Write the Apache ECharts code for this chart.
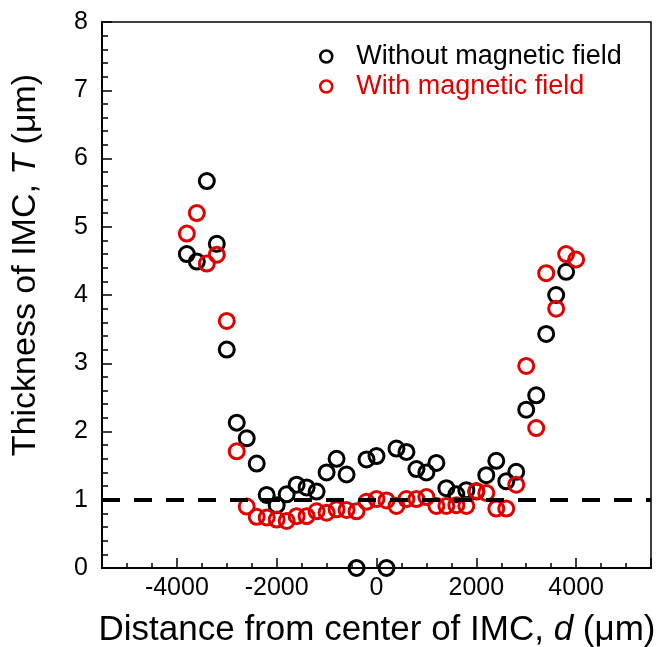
<!DOCTYPE html>
<html>
<head>
<meta charset="utf-8">
<script src="https://cdn.jsdelivr.net/npm/echarts@6/dist/echarts.min.js"></script>
<style>
html,body{margin:0;padding:0;background:#fff;}
#chart{width:664px;height:647px;}
</style>
</head>
<body>
<div id="chart"></div>
<script>
// Distance from center of IMC, d (µm)
const dWithout = [-3800,-3600,-3400,-3200,-3000,-2800,-2600,-2400,-2200,-2000,-1800,-1600,-1400,-1200,-1000,-800,-600,-400,-200,0,200,400,600,800,1000,1200,1400,1600,1800,2000,2200,2400,2600,2800,3000,3200,3400,3600,3800];
// Thickness of IMC, T (µm) — without magnetic field
const tWithout = [4.60,4.49,5.67,4.75,3.20,2.13,1.90,1.53,1.07,0.92,1.08,1.22,1.18,1.12,1.40,1.60,1.37,0.00,1.59,1.64,0.00,1.75,1.70,1.45,1.40,1.54,1.17,1.08,1.14,1.12,1.36,1.57,1.27,1.41,2.32,2.53,3.43,4.00,4.34];
const dWith = [-3800,-3600,-3400,-3200,-3000,-2800,-2600,-2400,-2200,-2000,-1800,-1600,-1400,-1200,-1000,-800,-600,-400,-200,0,200,400,600,800,1000,1200,1400,1600,1800,2000,2200,2400,2600,2800,3000,3200,3400,3600,3800,4000];
// Thickness of IMC, T (µm) — with magnetic field
const tWith = [4.90,5.20,4.46,4.59,3.62,1.71,0.90,0.75,0.74,0.71,0.69,0.76,0.76,0.83,0.81,0.86,0.85,0.83,0.97,1.01,0.99,0.91,1.01,1.01,1.04,0.91,0.91,0.92,0.91,1.13,1.10,0.87,0.87,1.22,2.96,2.05,4.32,3.80,4.60,4.52];
const seriesNames = ['Without magnetic field', 'With magnetic field'];
const refLineValue = 1;

const FONT = '"Liberation Sans", Arial, sans-serif';
const BLACK = '#000000';
const RED = '#e00000';

const chart = echarts.init(document.getElementById('chart'), null, {renderer: 'canvas'});
const zip = (xs, ys) => xs.map((x, i) => [x, ys[i]]);

chart.setOption({
  animation: false,
  backgroundColor: '#ffffff',
  grid: {left: 102, right: 13, top: 22, bottom: 79, show: true, borderColor: '#000', borderWidth: 1.5, containLabel: false},
  legend: {
    orient: 'vertical',
    left: 314,
    top: 38,
    itemWidth: 50,
    itemHeight: 12,
    itemGap: 3,
    icon: 'circle',
    itemStyle: {borderWidth: 2.5, opacity: 1},
    textStyle: {fontFamily: FONT, fontSize: 27},
    data: [
      {name: seriesNames[0], textStyle: {color: BLACK}},
      {name: seriesNames[1], textStyle: {color: RED}}
    ]
  },
  xAxis: {
    type: 'value',
    min: -5500,
    max: 5500,
    splitNumber: 5,
    axisLine: {onZero: false, lineStyle: {color: '#000', width: 2}},
    axisTick: {inside: true, length: 10, lineStyle: {color: '#000', width: 1.5}},
    minorTick: {show: true, splitNumber: 4, length: 5, lineStyle: {color: '#000', width: 1.5}},
    splitLine: {show: false},
    axisLabel: {showMinLabel: false, showMaxLabel: false, color: '#000', fontFamily: FONT, fontSize: 25, margin: 8,
      formatter: v => String(v)}
  },
  yAxis: {
    type: 'value',
    min: 0,
    max: 8,
    interval: 1,
    axisLine: {onZero: false, lineStyle: {color: '#000', width: 2}},
    axisTick: {inside: true, length: 10, lineStyle: {color: '#000', width: 1.5}},
    minorTick: {show: true, splitNumber: 5, length: 6, lineStyle: {color: '#000', width: 1.5}},
    splitLine: {show: false},
    axisLabel: {color: '#000', fontFamily: FONT, fontSize: 25, margin: 14}
  },
  graphic: [
    {
      type: 'text',
      x: 26, y: 265,
      rotation: Math.PI / 2,
      style: {
        text: '{a|Thickness of IMC, }{i|T}{a| (μm)}',
        textAlign: 'center',
        textVerticalAlign: 'middle',
        fill: '#000',
        rich: {
          a: {fontFamily: FONT, fontSize: 34, fill: '#000'},
          i: {fontFamily: FONT, fontSize: 34, fontStyle: 'italic', fill: '#000'}
        }
      }
    },
    {
      type: 'text',
      x: 377, y: 630,
      style: {
        text: '{a|Distance from center of IMC, }{i|d}{a| (μm)}',
        textAlign: 'center',
        textVerticalAlign: 'middle',
        fill: '#000',
        rich: {
          a: {fontFamily: FONT, fontSize: 35, fill: '#000'},
          i: {fontFamily: FONT, fontSize: 35, fontStyle: 'italic', fill: '#000'}
        }
      }
    }
  ],
  series: [
    {
      name: seriesNames[0],
      type: 'scatter',
      symbol: 'circle',
      symbolSize: 15,
      itemStyle: {color: 'rgba(255,255,255,0)', borderColor: BLACK, borderWidth: 3, opacity: 1},
      data: zip(dWithout, tWithout),
      markLine: {
        silent: true,
        symbol: 'none',
        label: {show: false},
        lineStyle: {color: '#000', width: 4, type: [18, 14], opacity: 1},
        data: [{yAxis: refLineValue}]
      },
      z: 2
    },
    {
      name: seriesNames[1],
      type: 'scatter',
      symbol: 'circle',
      symbolSize: 15,
      itemStyle: {color: 'rgba(255,255,255,0)', borderColor: RED, borderWidth: 3, opacity: 1},
      data: zip(dWith, tWith),
      z: 3
    }
  ]
});
</script>
</body>
</html>
